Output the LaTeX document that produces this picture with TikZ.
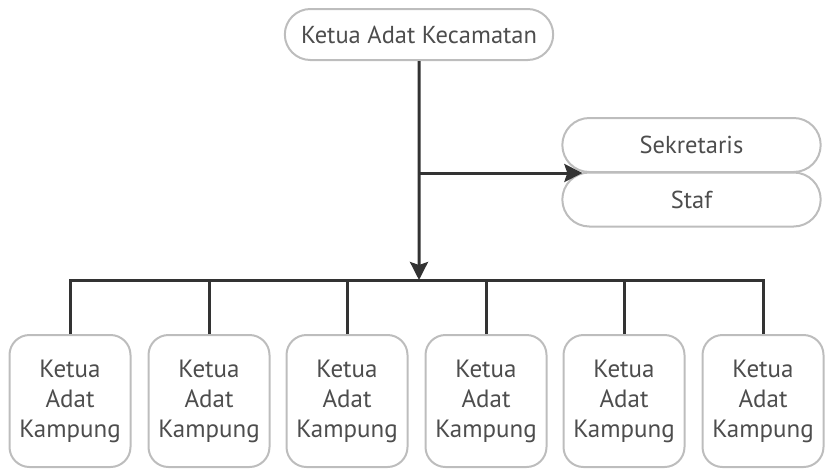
\documentclass[tikz,border=0pt]{standalone}
\usepackage{fontspec}
\setmainfont{PT Sans}
\usepackage{tikz}
\usetikzlibrary{arrows.meta,shapes.misc,calc}
\definecolor{boxgray}{HTML}{BDBDBD}
\definecolor{txtgray}{HTML}{4D4D4D}
\definecolor{linegray}{HTML}{333333}
\tikzset{
  pill/.style={rounded rectangle, draw=boxgray, line width=2pt, text=txtgray,
    font=\fontsize{24.5}{30}\selectfont},
  kampung/.style={rectangle, rounded corners=20pt, draw=boxgray, line width=2pt,
    minimum width=121pt, minimum height=132pt, align=center, text=txtgray,
    font=\fontsize{25}{30}\selectfont},
  link/.style={draw=linegray, line width=3pt},
}

\begin{document}
\begin{tikzpicture}[x=1pt, y=-1pt]
    \useasboundingbox (0,0) rectangle (826,472);
    \node[pill, minimum width=275pt, minimum height=51pt] (kec) at (419,34.5) {Ketua Adat Kecamatan};
    \node[pill, minimum width=265pt, minimum height=54pt] (sek) at (691.5,145) {Sekretaris};
    \node[pill, minimum width=265pt, minimum height=54pt] (staf) at (691.5,199.5) {Staf};
    \node[kampung] (kp1) at (70,401) {Ketua\\Adat\\Kampung};
    \node[kampung] (kp2) at (209,401) {Ketua\\Adat\\Kampung};
    \node[kampung] (kp3) at (347,401) {Ketua\\Adat\\Kampung};
    \node[kampung] (kp4) at (486,401) {Ketua\\Adat\\Kampung};
    \node[kampung] (kp5) at (624,401) {Ketua\\Adat\\Kampung};
    \node[kampung] (kp6) at (763,401) {Ketua\\Adat\\Kampung};
    \coordinate (bar) at (419,280);
    \coordinate (fork) at (kec.south |- sek.south west);
    \coordinate (sektip) at ($(sek.south west)+(-7,0)$);
    \draw[link, -{Stealth[length=18pt, width=18pt, inset=3pt]}] (kec) -- (kec.south |- bar);
    \draw[link, -{Stealth[length=18pt, width=18pt, inset=3pt]}] (fork) -- (sektip);
    \draw[link] (kp1.north) -- (kp1.north |- bar) -- (kp6.north |- bar) -- (kp6.north);
    \draw[link] (kp2.north) -- (kp2.north |- bar);
    \draw[link] (kp3.north) -- (kp3.north |- bar);
    \draw[link] (kp4.north) -- (kp4.north |- bar);
    \draw[link] (kp5.north) -- (kp5.north |- bar);
\end{tikzpicture}
\end{document}
